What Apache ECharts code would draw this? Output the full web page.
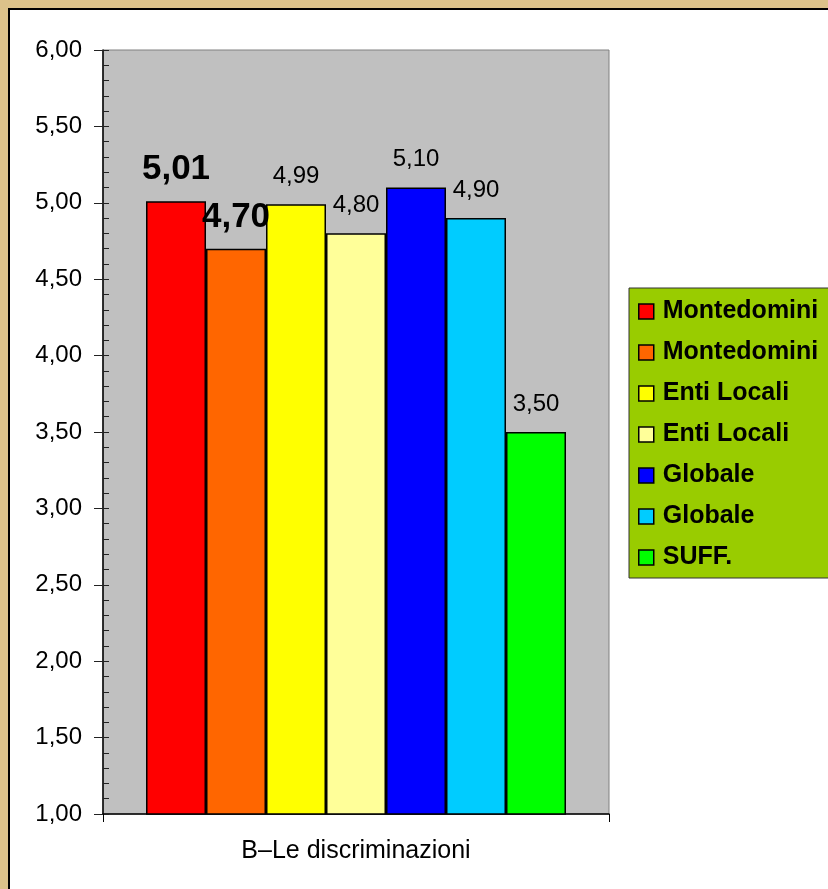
<!DOCTYPE html>
<html>
<head>
<meta charset="utf-8">
<script src="https://cdn.jsdelivr.net/npm/echarts@6/dist/echarts.min.js"></script>
<style>
  html, body { margin: 0; padding: 0; background: #dcc28a; }
  #chart { width: 828px; height: 889px; }
</style>
</head>
<body>
<div id="chart"></div>
<script>
// ---- data ----
const categories = ['B\u2013Le discriminazioni'];
const seriesNames = ['Montedomini', 'Montedomini', 'Enti Locali', 'Enti Locali', 'Globale', 'Globale', 'SUFF.'];
const seriesValues = [5.01, 4.70, 4.99, 4.80, 5.10, 4.90, 3.50];
const seriesColors = ['#ff0000', '#ff6600', '#ffff00', '#ffff99', '#0000ff', '#00ccff', '#00ff00'];
const boldLabel = [true, true, false, false, false, false, false];
const yMin = 1, yMax = 6, yInterval = 0.5, yMinorInterval = 0.1;

const fmt = v => v.toFixed(2).replace('.', ',');
const FONT = 'Liberation Sans, Arial, sans-serif';

const chart = echarts.init(document.getElementById('chart'), null, { renderer: 'canvas' });

// unique legend names (zero-width suffix) so duplicate labels get separate entries
const series = seriesValues.map((v, i) => ({
  id: 's' + i,
  name: seriesNames[i] + '\u200b'.repeat(i),
  type: 'bar',
  xAxisIndex: 0,
  yAxisIndex: 0,
  barGap: '0%',
  barCategoryGap: '17%',
  data: [v],
  itemStyle: { color: seriesColors[i], borderColor: '#000', borderWidth: 1.5 },
  label: {
    show: true,
    position: 'top',
    distance: boldLabel[i] ? 14 : 16,
    formatter: p => fmt(p.value),
    color: '#000',
    fontFamily: FONT,
    fontSize: boldLabel[i] ? 35 : 24,
    fontWeight: boldLabel[i] ? 'bold' : 'normal'
  },
  z: 3
}));

const option = {
  backgroundColor: '#dcc28a',
  animation: false,
  graphic: [{
    type: 'rect',
    shape: { x: 9, y: 9, width: 840, height: 900 },
    style: { fill: '#ffffff', stroke: '#000', lineWidth: 2 },
    z: -10
  }],
  grid: {
    left: 103, top: 50, width: 506, height: 764,
    show: true,
    backgroundColor: '#c0c0c0',
    borderColor: '#808080',
    borderWidth: 1
  },
  legend: {
    orient: 'vertical',
    left: 629, top: 288,
    backgroundColor: '#99cc00',
    borderColor: '#333',
    borderWidth: 1,
    padding: [11, 20, 8, 9],
    itemWidth: 15, itemHeight: 15,
    itemGap: 16,
    icon: 'rect',
    selectedMode: false,
    itemStyle: { borderColor: '#000', borderWidth: 1.5 },
    textStyle: {
      color: '#000', fontFamily: FONT, fontSize: 25, fontWeight: 'bold',
      lineHeight: 25, padding: [0, 0, 0, 4]
    },
    formatter: n => n.replace(/\u200b/g, ''),
    data: series.map(s => s.name)
  },
  xAxis: [{
    type: 'category',
    data: categories,
    boundaryGap: true,
    axisLine: { show: true, lineStyle: { color: '#000', width: 1.5 } },
    axisTick: { show: true, length: 8, alignWithLabel: false, lineStyle: { color: '#000' } },
    axisLabel: { show: false },
    name: categories[0],
    nameLocation: 'middle',
    nameGap: 25,
    nameTextStyle: { color: '#000', fontFamily: FONT, fontSize: 25 }
  }],
  yAxis: [{
    type: 'value',
    min: yMin, max: yMax, interval: yInterval,
    axisLine: { show: true, lineStyle: { color: '#000', width: 1.5 } },
    axisTick: { show: true, length: 9, inside: false, lineStyle: { color: '#222' } },
    axisLabel: { formatter: v => fmt(v), color: '#000', fontFamily: FONT, fontSize: 24, margin: 21 },
    splitLine: { show: false }
  }, {
    type: 'value',
    position: 'left',
    min: yMin, max: yMax, interval: yMinorInterval,
    axisLine: { show: false },
    axisTick: { show: true, length: 6, inside: true, lineStyle: { color: '#222' } },
    axisLabel: { show: false },
    splitLine: { show: false }
  }],
  series: series
};

chart.setOption(option);
</script>
</body>
</html>
